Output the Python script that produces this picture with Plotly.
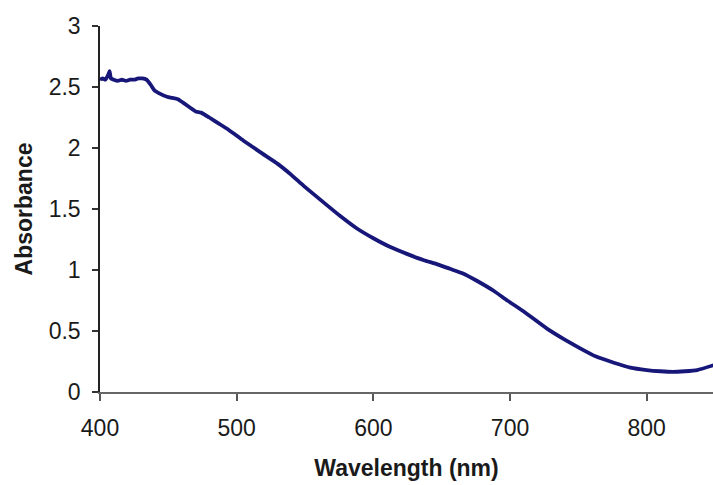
import plotly.graph_objects as go

wavelength = [400, 402, 404, 406, 407, 408, 410, 413, 416, 419, 422, 425, 428, 431, 434,
              437, 440, 443, 449, 453, 457, 461, 466, 470, 474, 480, 487, 494, 505, 518,
              530, 540, 549, 564, 576, 588, 600, 612, 625, 637, 646, 656, 666, 676, 688,
              698, 710, 727, 740, 751, 763, 776, 788, 800, 810, 819, 828, 837, 849]
absorbance = [2.56, 2.57, 2.56, 2.60, 2.63, 2.57, 2.56, 2.55, 2.56, 2.55, 2.56, 2.56, 2.57, 2.57, 2.56,
              2.52, 2.47, 2.45, 2.42, 2.41, 2.40, 2.37, 2.33, 2.30, 2.29, 2.25, 2.20, 2.15, 2.06, 1.96,
              1.87, 1.78, 1.69, 1.55, 1.44, 1.34, 1.26, 1.19, 1.13, 1.08, 1.05, 1.01, 0.97, 0.91, 0.83,
              0.75, 0.66, 0.52, 0.43, 0.36, 0.29, 0.24, 0.20, 0.18, 0.17, 0.165, 0.17, 0.18, 0.22]

x_ticks = [400, 500, 600, 700, 800]
y_ticks = [0, 0.5, 1, 1.5, 2, 2.5, 3]
y_tick_text = ["0", "0.5", "1", "1.5", "2", "2.5", "3"]

fig = go.Figure(go.Scatter(
    x=wavelength, y=absorbance, mode="lines",
    line=dict(color="#17177a", width=3.8, shape="spline", smoothing=0.4),
    showlegend=False, cliponaxis=False, hoverinfo="skip",
))

font_family = "Liberation Sans, Arial, sans-serif"

fig.update_layout(
    width=713, height=485,
    margin=dict(l=100, r=0, t=26, b=93),
    paper_bgcolor="white", plot_bgcolor="white",
    font=dict(family=font_family, size=23, color="#1a1a1a"),
)
fig.update_xaxes(
    range=[400, 848.5], tickvals=x_ticks, ticks="outside", ticklen=7, tickwidth=1.5,
    tickcolor="#555", showline=True, linecolor="#666", linewidth=1.5,
    showgrid=False, zeroline=False, ticklabelstandoff=8, automargin=False,
    title=dict(text="<b>Wavelength (nm)</b>", font=dict(size=23), standoff=20),
)
fig.update_yaxes(
    range=[0, 3], tickvals=y_ticks, ticktext=y_tick_text, ticks="outside", ticklen=6,
    tickwidth=1.5, tickcolor="#333", showline=True, linecolor="#222", linewidth=1.5,
    showgrid=False, zeroline=False, ticklabelstandoff=7, automargin=False,
    title=dict(text="<b>Absorbance</b>", font=dict(size=23), standoff=10),
)

fig.write_html(
    "out.html",
    config={"displayModeBar": False},
    post_script="document.body.style.margin='0';document.body.style.overflow='hidden';",
)
